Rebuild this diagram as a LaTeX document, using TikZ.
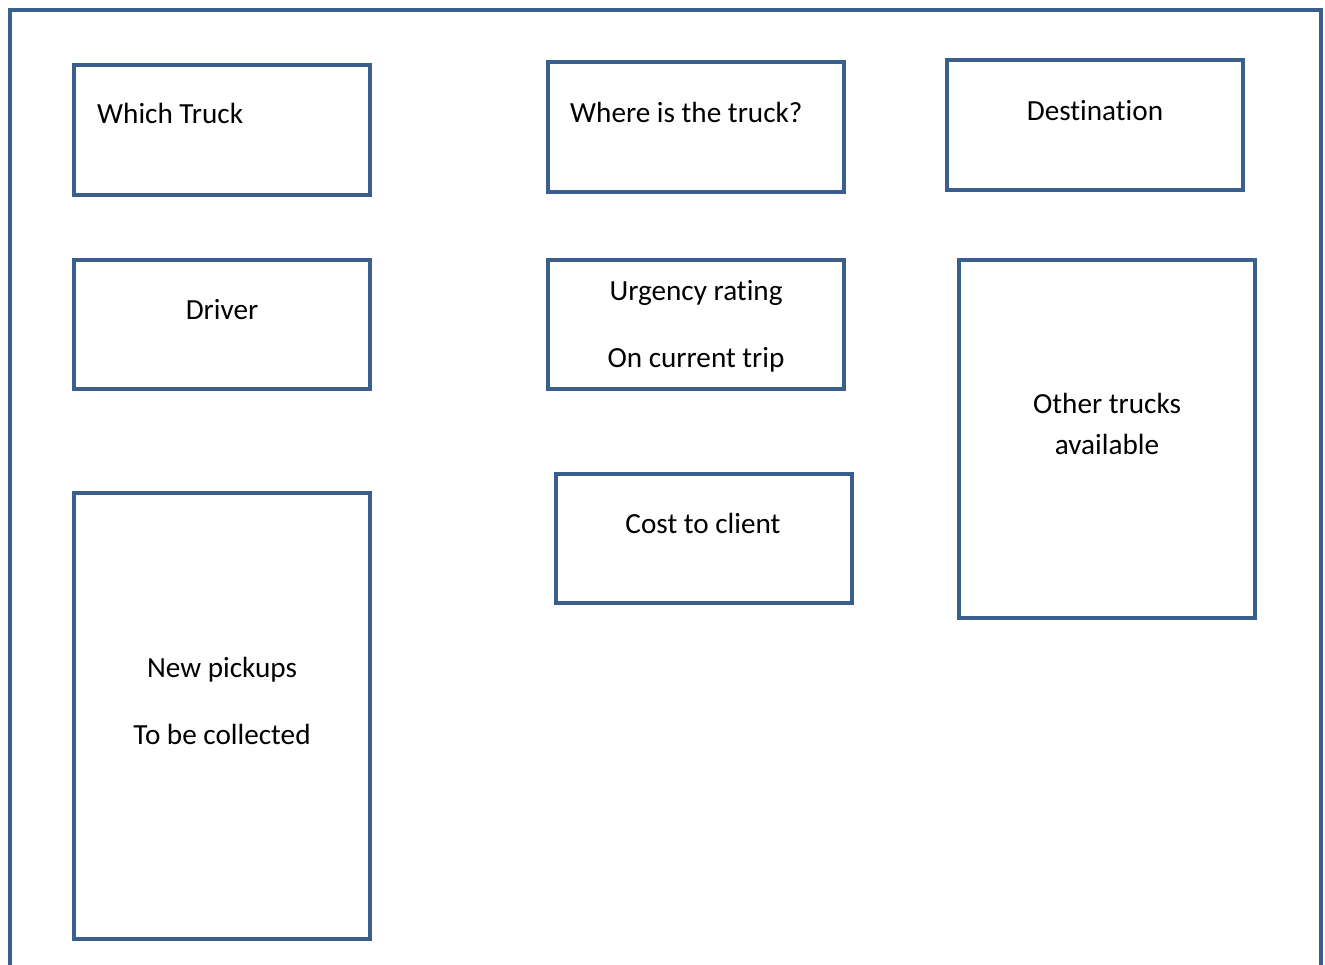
\documentclass[tikz,border=0pt]{standalone}
\usepackage{fontspec}
\setmainfont{Carlito}[Ligatures=NoCommon]
\definecolor{boxblue}{RGB}{58,95,140}
\begin{document}
\begin{tikzpicture}[x=1pt,y=-1pt,
  frame/.style={draw=boxblue,line width=4.5pt},
  lbl/.style={anchor=base,inner sep=0pt,font=\fontsize{29.2}{34}\selectfont}]
\useasboundingbox (0,0) rectangle (1325,964);
\clip (0,0) rectangle (1325,964);
\draw[frame] (10,1000) -- (10,10) -- (1321,10) -- (1321,1000);
% boxes
\node[frame,minimum width=296pt,minimum height=130pt,inner sep=0pt] (truck) at (222,130) {};
\node[frame,minimum width=296pt,minimum height=130pt,inner sep=0pt] (where) at (696,127) {};
\node[frame,minimum width=296pt,minimum height=130pt,inner sep=0pt] (dest) at (1095,125) {};
\node[frame,minimum width=296pt,minimum height=129pt,inner sep=0pt] (driver) at (222,324.5) {};
\node[frame,minimum width=296pt,minimum height=129pt,inner sep=0pt] (urg) at (696,324.5) {};
\node[frame,minimum width=296pt,minimum height=358pt,inner sep=0pt] (other) at (1107,439) {};
\node[frame,minimum width=296pt,minimum height=129pt,inner sep=0pt] (cost) at (704,538.5) {};
\node[frame,minimum width=296pt,minimum height=446pt,inner sep=0pt] (pick) at (222,716) {};
% texts
\node[lbl,anchor=base west] (t1) at (97,123) {Which Truck};
\node[lbl,anchor=base west] (t2) at (570,122) {Where is the truck?};
\node[lbl] (t3) at (1095,120) {Destination};
\node[lbl] (t4) at (222,319) {Driver};
\node[lbl] (t5) at (696,300) {Urgency rating};
\node[lbl] (t6) at (696,367) {On current trip};
\node[lbl] (t7) at (1107,413) {Other trucks};
\node[lbl] (t8) at (1107,454) {available};
\node[lbl] (t9) at (703,533) {Cost to client};
\node[lbl] (t10) at (222,677) {New pickups};
\node[lbl] (t11) at (222,744) {To be collected};
\end{tikzpicture}
\end{document}
